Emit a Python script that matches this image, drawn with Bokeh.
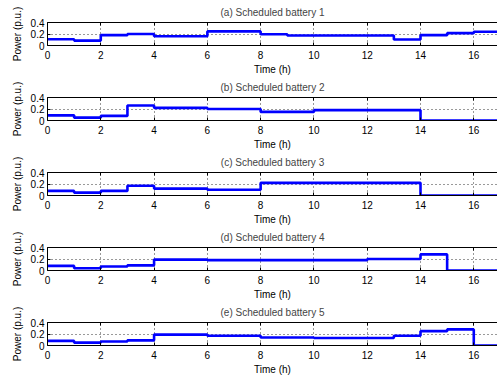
from bokeh.plotting import figure
from bokeh.layouts import column
from bokeh.models import LinearAxis, FixedTicker, Range1d, Spacer
from bokeh.embed import file_html
from bokeh.resources import INLINE

# ---- data (hourly scheduled power, p.u.) ----
hours = list(range(18))  # step edges 0..17
battery_1 = [0.11, 0.085, 0.18, 0.20, 0.16, 0.16, 0.245, 0.245, 0.195, 0.175, 0.175, 0.175, 0.175, 0.105, 0.18, 0.215, 0.24]
battery_2 = [0.09, 0.05, 0.08, 0.26, 0.22, 0.22, 0.20, 0.20, 0.15, 0.15, 0.18, 0.18, 0.18, 0.18, 0.0, 0.0, 0.0]
battery_3 = [0.08, 0.05, 0.08, 0.17, 0.12, 0.12, 0.10, 0.10, 0.22, 0.22, 0.22, 0.22, 0.22, 0.22, 0.0, 0.0, 0.0]
battery_4 = [0.08, 0.04, 0.07, 0.09, 0.19, 0.19, 0.18, 0.18, 0.18, 0.18, 0.18, 0.18, 0.20, 0.20, 0.28, 0.0, 0.0]
battery_5 = [0.08, 0.05, 0.07, 0.09, 0.19, 0.19, 0.17, 0.17, 0.14, 0.14, 0.13, 0.13, 0.13, 0.17, 0.25, 0.28, 0.0]
series = [battery_1, battery_2, battery_3, battery_4, battery_5]
titles = ["(a) Scheduled battery 1", "(b) Scheduled battery 2", "(c) Scheduled battery 3",
          "(d) Scheduled battery 4", "(e) Scheduled battery 5"]
x_ticks = [0, 2, 4, 6, 8, 10, 12, 14, 16]
y_ticks = [0, 0.2, 0.4]
y_tick_labels = {0: "0", 0.2: "0.2", 0.4: "0.4"}
x_label = "Time (h)"
y_label = "Power (p.u.)"

FONT = "Liberation Sans"
FS = "10px"

figs = [Spacer(width=497, height=2)]
for title, vals in zip(titles, series):
    p = figure(width=497, height=75, output_backend="svg", toolbar_location=None,
               x_range=Range1d(0, 16.89), y_range=Range1d(0, 0.4),
               min_border_left=47, min_border_right=0, min_border_top=20, min_border_bottom=31,
               title=title)
    p.title.text_font = FONT
    p.title.text_font_size = FS
    p.title.text_font_style = "normal"
    p.title.align = "center"
    p.title.vertical_align = "top"
    p.title.standoff = 6
    p.outline_line_color = None
    p.background_fill_color = "white"
    p.border_fill_color = "white"

    p.xaxis.ticker = FixedTicker(ticks=x_ticks)
    p.yaxis.ticker = FixedTicker(ticks=y_ticks)
    p.yaxis.major_label_overrides = y_tick_labels
    p.xaxis.axis_label = x_label
    p.yaxis.axis_label = y_label
    for ax in (p.xaxis[0], p.yaxis[0]):
        ax.major_tick_in = 3
        ax.major_tick_out = 0
        ax.minor_tick_in = 0
        ax.minor_tick_out = 0
        ax.axis_line_color = "black"
        ax.major_tick_line_color = "black"
        ax.major_label_text_font = FONT
        ax.major_label_text_font_size = FS
        ax.major_label_text_color = "black"
        ax.axis_label_text_font = FONT
        ax.axis_label_text_font_size = FS
        ax.axis_label_text_font_style = "normal"
        ax.axis_label_text_color = "black"
    p.xaxis.major_label_standoff = 5
    p.xaxis.axis_label_standoff = 2
    p.yaxis.major_label_standoff = 3
    p.yaxis.axis_label_standoff = 5

    top = LinearAxis(ticker=FixedTicker(ticks=x_ticks),
                     major_label_overrides={t: "" for t in x_ticks},
                     major_tick_in=3, major_tick_out=0, minor_tick_in=0, minor_tick_out=0,
                     major_label_standoff=0, axis_line_color="black")
    p.add_layout(top, "above")

    p.xgrid.ticker = FixedTicker(ticks=x_ticks)
    p.ygrid.ticker = FixedTicker(ticks=y_ticks)
    for g in (p.xgrid[0], p.ygrid[0]):
        g.grid_line_color = "#333333"
        g.grid_line_dash = "1 3"
        g.grid_line_width = 1

    p.step(hours, vals + [vals[-1]], mode="after", line_color="#0000ff", line_width=2.6)
    figs.append(p)

layout = column(*figs, spacing=0)
open("out.html", "w").write(file_html(layout, INLINE))
